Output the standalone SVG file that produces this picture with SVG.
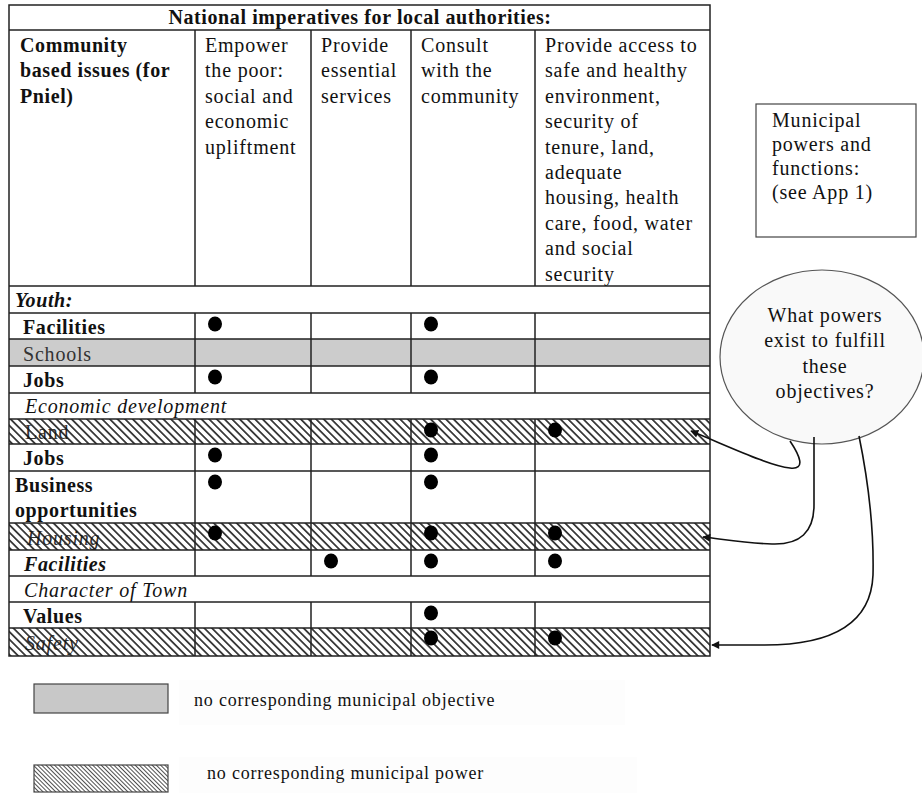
<svg xmlns="http://www.w3.org/2000/svg" width="922" height="793" viewBox="0 0 922 793">
<style>
  text { font-family: "Liberation Serif", "Times New Roman", serif; font-size: 20px; fill: #111; letter-spacing: 0.8px; }
  .b { font-weight: bold; letter-spacing: 0.6px; }
  .i { font-style: italic; }
  .bi { font-weight: bold; font-style: italic; letter-spacing: 0.6px; }
  .dim { fill: #333; }
  .grid { stroke: #222; stroke-width: 1.5; fill: none; }
  .dot { fill: #000; }
  .conn { fill: none; stroke: #111; stroke-width: 1.6; }
  .mid { text-anchor: middle; }
</style>
<defs>
  <pattern id="hatch" patternUnits="userSpaceOnUse" width="5.4" height="10" patternTransform="rotate(-45)">
    <line x1="2.7" y1="0" x2="2.7" y2="10" stroke="#111" stroke-width="1.5"/>
  </pattern>
  <pattern id="hatchFine" patternUnits="userSpaceOnUse" width="3" height="10" patternTransform="rotate(-45)">
    <line x1="1.5" y1="0" x2="1.5" y2="10" stroke="#222" stroke-width="0.8"/>
  </pattern>
  <marker id="ah" viewBox="0 0 10 10" refX="9" refY="5" markerWidth="11" markerHeight="8" markerUnits="userSpaceOnUse" orient="auto">
    <path d="M0,0 L10,5 L0,10 z" fill="#111"/>
  </marker>
</defs>
<rect width="922" height="793" fill="#fff"/>

<g id="table">
  <rect x="9" y="339" width="701" height="27" fill="#cccccc"/>

  <text class="b mid" x="360" y="24">National imperatives for local authorities:</text>
  <g id="col0-head">
    <text class="b" x="20" y="52">Community</text>
    <text class="b" x="20" y="77.4">based issues (for</text>
    <text class="b" x="20" y="102.8">Pniel)</text>
  </g>
  <g id="col1-head">
    <text x="205" y="52">Empower</text>
    <text x="205" y="77.4">the poor:</text>
    <text x="205" y="102.8">social and</text>
    <text x="205" y="128.2">economic</text>
    <text x="205" y="153.6">upliftment</text>
  </g>
  <g id="col2-head">
    <text x="321" y="52">Provide</text>
    <text x="321" y="77.4">essential</text>
    <text x="321" y="102.8">services</text>
  </g>
  <g id="col3-head">
    <text x="421" y="52">Consult</text>
    <text x="421" y="77.4">with the</text>
    <text x="421" y="102.8">community</text>
  </g>
  <g id="col4-head">
    <text x="545" y="52">Provide access to</text>
    <text x="545" y="77.4">safe and healthy</text>
    <text x="545" y="102.8">environment,</text>
    <text x="545" y="128.2">security of</text>
    <text x="545" y="153.6">tenure, land,</text>
    <text x="545" y="179">adequate</text>
    <text x="545" y="204.4">housing, health</text>
    <text x="545" y="229.8">care, food, water</text>
    <text x="545" y="255.2">and social</text>
    <text x="545" y="280.6">security</text>
  </g>

  <g id="row-labels">
    <text class="bi" x="15" y="307">Youth:</text>
    <text class="b" x="23" y="334">Facilities</text>
    <text class="dim" x="23" y="361">Schools</text>
    <text class="b" x="23" y="387">Jobs</text>
    <text class="i" x="25" y="413">Economic development</text>
    <text class="dim" x="25" y="439">Land</text>
    <text class="b" x="23" y="465">Jobs</text>
    <text class="b" x="15" y="492">Business</text>
    <text class="b" x="15" y="517">opportunities</text>
    <text class="i dim" x="27" y="545">Housing</text>
    <text class="bi" x="24" y="571">Facilities</text>
    <text class="i" x="24" y="597">Character of Town</text>
    <text class="b" x="23" y="623">Values</text>
    <text class="i dim" x="25" y="650">Safety</text>
  </g>

  <rect x="9" y="419" width="701" height="25" fill="url(#hatch)"/>
  <rect x="9" y="523" width="701" height="27" fill="url(#hatch)"/>
  <rect x="9" y="628" width="701" height="28" fill="url(#hatch)"/>

  <g id="dots">
    <ellipse class="dot" cx="215" cy="324" rx="7" ry="7.5"/>
    <ellipse class="dot" cx="431" cy="324" rx="7" ry="7.5"/>
    <ellipse class="dot" cx="215" cy="377" rx="7" ry="7.5"/>
    <ellipse class="dot" cx="431" cy="377" rx="7" ry="7.5"/>
    <ellipse class="dot" cx="431" cy="430" rx="7" ry="7.5"/>
    <ellipse class="dot" cx="555" cy="430" rx="7" ry="7.5"/>
    <ellipse class="dot" cx="215" cy="455" rx="7" ry="7.5"/>
    <ellipse class="dot" cx="431" cy="455" rx="7" ry="7.5"/>
    <ellipse class="dot" cx="215" cy="482" rx="7" ry="7.5"/>
    <ellipse class="dot" cx="431" cy="482" rx="7" ry="7.5"/>
    <ellipse class="dot" cx="215" cy="533" rx="7" ry="7.5"/>
    <ellipse class="dot" cx="431" cy="533" rx="7" ry="7.5"/>
    <ellipse class="dot" cx="555" cy="533" rx="7" ry="7.5"/>
    <ellipse class="dot" cx="331" cy="561" rx="7" ry="7.5"/>
    <ellipse class="dot" cx="431" cy="561" rx="7" ry="7.5"/>
    <ellipse class="dot" cx="555" cy="561" rx="7" ry="7.5"/>
    <ellipse class="dot" cx="431" cy="613" rx="7" ry="7.5"/>
    <ellipse class="dot" cx="431" cy="638" rx="7" ry="7.5"/>
    <ellipse class="dot" cx="555" cy="638" rx="7" ry="7.5"/>
  </g>

  <rect class="grid" x="9" y="5" width="701" height="651"/>
  <path class="grid" d="M9 30H710 M9 286H710 M9 313H710 M9 339H710 M9 366H710 M9 393H710 M9 419H710 M9 444H710 M9 471H710 M9 523H710 M9 550H710 M9 576H710 M9 602H710 M9 628H710"/>
  <path class="grid" d="M195 30V286 M311 30V286 M411 30V286 M535 30V286
                        M195 313V393 M311 313V393 M411 313V393 M535 313V393
                        M195 419V576 M311 419V576 M411 419V576 M535 419V576
                        M195 602V656 M311 602V656 M411 602V656 M535 602V656"/>
</g>

<g id="powers-box">
  <rect x="756" y="104" width="160" height="133" fill="#fff" stroke="#444" stroke-width="1.2"/>
  <text x="772" y="127">Municipal</text>
  <text x="772" y="151">powers and</text>
  <text x="772" y="175">functions:</text>
  <text x="772" y="199">(see App 1)</text>
</g>

<g id="question">
  <ellipse cx="822" cy="357" rx="102" ry="87" fill="#f9f9f9" stroke="#555" stroke-width="1.2"/>
  <text class="mid" x="825" y="322">What powers</text>
  <text class="mid" x="825" y="347">exist to fulfill</text>
  <text class="mid" x="825" y="373">these</text>
  <text class="mid" x="825" y="398">objectives?</text>
</g>

<g id="connectors">
  <path class="conn" d="M790 441 C800 456, 806 470, 790 468 C770 466, 730 447, 691 431" marker-end="url(#ah)"/>
  <path class="conn" d="M814 437 L814 505 C814 532, 800 545, 772 544 C745 543, 722 539, 703 537" marker-end="url(#ah)"/>
  <path class="conn" d="M859 436 C868 480, 874 530, 873 575 C871 625, 830 646, 760 645 L712 645" marker-end="url(#ah)"/>
</g>

<g id="legend">
  <rect x="179" y="680" width="446" height="45" fill="#fdfdfd"/>
  <rect x="179" y="757" width="458" height="36" fill="#fdfdfd"/>
  <rect x="34" y="684" width="134" height="29" fill="#c8c8c8" stroke="#444" stroke-width="1.2"/>
  <text x="194" y="706" style="font-size:18px">no corresponding municipal objective</text>
  <rect x="34" y="765" width="134" height="27" fill="#fff"/>
  <rect x="34" y="765" width="134" height="27" fill="url(#hatchFine)" stroke="#444" stroke-width="1.2"/>
  <text x="207" y="779" style="font-size:18px">no corresponding municipal power</text>
</g>
</svg>
